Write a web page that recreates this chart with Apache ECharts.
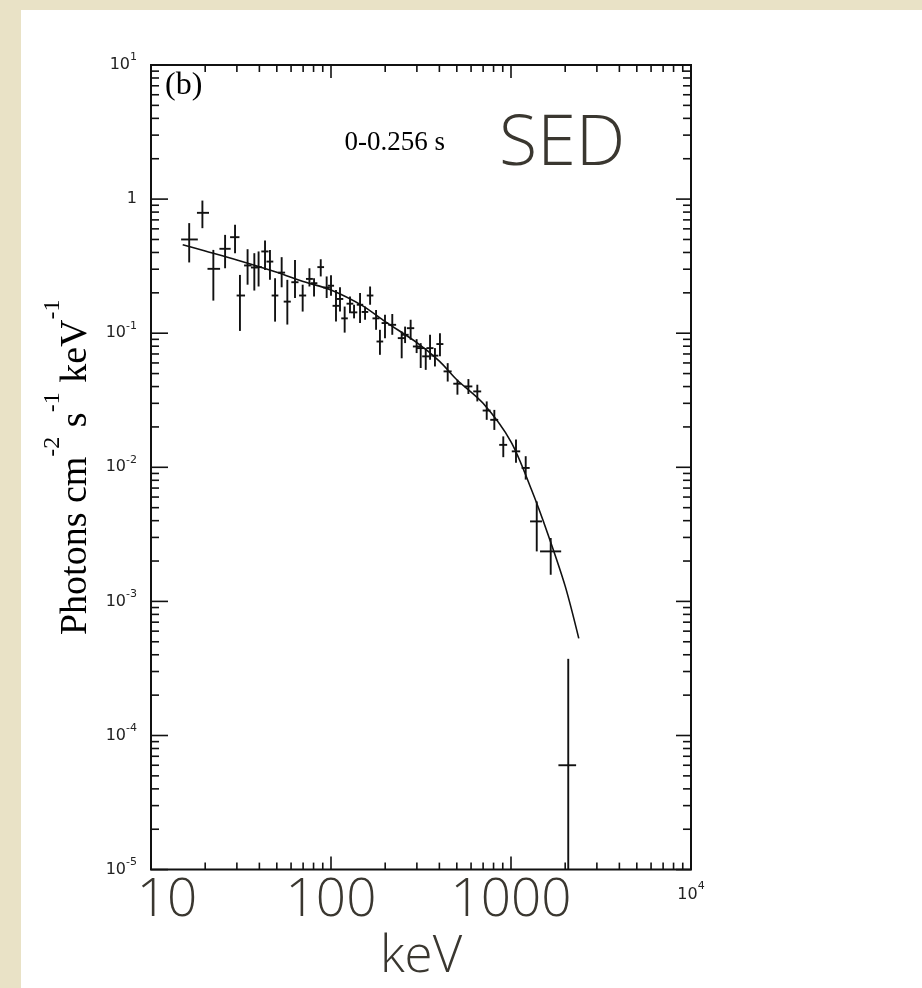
<!DOCTYPE html>
<html><head><meta charset="utf-8">
<script src="https://cdn.jsdelivr.net/npm/echarts@6/dist/echarts.min.js"></script>
<style>
html,body{margin:0;padding:0;width:922px;height:988px;background:#e9e2c6;overflow:hidden}
#panel{position:absolute;left:21px;top:10px;width:901px;height:978px;background:#fff}
#chart{position:absolute;left:0;top:0;width:922px;height:988px}
</style></head><body>
<div id="panel"></div>
<div id="chart"></div>
<script>
// ---- data ----
const energy   = [16.3, 19.3, 22.2, 25.8, 29.3, 31.2, 34.4, 37.5, 39.6, 43.0, 45.8, 48.9, 53.2, 57.2, 63.1, 69.6, 75.9, 80.5, 87.7, 94.6, 100, 106.6, 112.2, 119.1, 127.5, 134.3, 145, 154.6, 164.9, 178, 187, 199.5, 219, 247, 258, 277, 299, 315, 336, 355, 378, 403, 445, 504, 580, 650, 733, 808, 906, 1066, 1207, 1390, 1662, 2080];
const energyLo = [14.7, 18.0, 20.6, 24.0, 27.5, 29.9, 32.9, 35.9, 38.0, 41.0, 43.8, 46.8, 50.8, 54.6, 60.2, 66.5, 72.6, 77.0, 84.0, 90.6, 96, 102, 107.5, 114, 122, 129, 139, 148, 158, 170, 179, 191, 208, 235, 246, 264, 285, 300, 321, 339, 361, 385, 422, 478, 550, 617, 696, 767, 860, 1010, 1145, 1276, 1450, 1834];
const energyHi = [18.2, 21.0, 24.2, 27.7, 31.0, 33.3, 36.2, 39.2, 41.3, 45.0, 47.8, 51.0, 55.6, 59.8, 66.0, 72.8, 79.3, 84.0, 91.5, 98.6, 104, 111, 117, 124, 133, 140, 151, 161, 172, 186, 195, 208, 230, 259, 270, 290, 313, 330, 352, 371, 395, 421, 468, 530, 610, 683, 770, 849, 952, 1125, 1270, 1487, 1900, 2300];
const flux     = [0.50, 0.79, 0.302, 0.426, 0.520, 0.191, 0.320, 0.309, 0.311, 0.407, 0.342, 0.191, 0.283, 0.172, 0.240, 0.191, 0.254, 0.236, 0.311, 0.219, 0.226, 0.160, 0.180, 0.129, 0.166, 0.143, 0.163, 0.144, 0.191, 0.129, 0.0867, 0.119, 0.1155, 0.0919, 0.0973, 0.109, 0.0796, 0.0774, 0.0672, 0.0774, 0.068, 0.083, 0.0519, 0.042, 0.0401, 0.0368, 0.0265, 0.0226, 0.0147, 0.01315, 0.00989, 0.00395, 0.00236, 0.00006];
const fluxLo   = [0.337, 0.607, 0.175, 0.305, 0.395, 0.104, 0.230, 0.208, 0.223, 0.296, 0.250, 0.122, 0.220, 0.116, 0.183, 0.145, 0.223, 0.188, 0.265, 0.183, 0.19, 0.122, 0.145, 0.101, 0.141, 0.129, 0.119, 0.126, 0.163, 0.106, 0.069, 0.0918, 0.0973, 0.065, 0.0844, 0.0893, 0.0711, 0.055, 0.0533, 0.0634, 0.0565, 0.0672, 0.0436, 0.0348, 0.0352, 0.031, 0.0226, 0.019, 0.0119, 0.0108, 0.0081, 0.00236, 0.00158, 0.00001];
const fluxHi   = [0.662, 0.975, 0.418, 0.541, 0.643, 0.272, 0.423, 0.395, 0.407, 0.491, 0.418, 0.257, 0.369, 0.250, 0.352, 0.230, 0.305, 0.257, 0.356, 0.265, 0.27, 0.210, 0.220, 0.158, 0.188, 0.163, 0.199, 0.158, 0.223, 0.149, 0.106, 0.137, 0.139, 0.103, 0.112, 0.126, 0.0903, 0.0843, 0.0774, 0.0973, 0.0774, 0.100, 0.0598, 0.045, 0.0455, 0.0413, 0.031, 0.0268, 0.017, 0.0161, 0.0121, 0.00557, 0.00297, 0.000373];
const modelEnergy = [15, 20, 30, 50, 70, 100, 150, 200, 300, 400, 500, 700, 1000, 1300, 1600, 2000, 2380];
const modelFlux   = [0.456, 0.41, 0.352, 0.285, 0.243, 0.21, 0.16, 0.122, 0.085, 0.062, 0.045, 0.030, 0.0155, 0.0068, 0.0032, 0.0013, 0.00053];
const xTickValues = [10, 100, 1000, 10000];
const xTickLabels = ['10', '100', '1000', '10^4'];
const yTickValues = [1e-5, 1e-4, 1e-3, 1e-2, 1e-1, 1, 10];
const yTickLabels = ['10^-5', '10^-4', '10^-3', '10^-2', '10^-1', '1', '10^1'];
const xRange = [10, 10000];
const yRange = [1e-5, 10];
const panelLabel = '(b)';
const timeLabel = '0-0.256 s';
const slideTitle = 'SED';
const xName = 'keV';

// ---- helpers ----
function logTicks(min, max) {
  const out = [];
  for (let d = min; d <= max * 1.0001; d *= 10) {
    for (let k = 1; k < 10; k++) {
      const v = k * d;
      if (v > max * 1.0001) break;
      out.push([v, k === 1 ? 1 : 0]);
    }
  }
  return out;
}
function findIdx(arr, v) {
  return arr.findIndex(t => Math.abs(Math.log10(t) - Math.log10(v)) < 1e-6);
}
const errData = energy.map((e, i) => [e, flux[i], energyLo[i], energyHi[i], fluxLo[i], fluxHi[i]]);
const modelData = modelEnergy.map((e, i) => [e, modelFlux[i]]);

const chart = echarts.init(document.getElementById('chart'), null, {renderer: 'canvas'});
const serif = '"Liberation Serif", "DejaVu Serif", serif';
const sans = '"Open Sans", "Noto Sans", sans-serif';
const small = '"DejaVu Sans", sans-serif';
const dark = '#3a3730';

const option = {
  backgroundColor: 'transparent',
  animation: false,
  grid: {left: 151, top: 65, width: 540, height: 805, show: true, borderColor: '#111', borderWidth: 2, backgroundColor: 'transparent'},
  xAxis: {
    type: 'log', logBase: 10, min: xRange[0], max: xRange[1], splitNumber: 3,
    axisLine: {show: false}, axisTick: {show: false}, splitLine: {show: false},
    name: xName, nameLocation: 'middle', nameGap: 48,
    nameTextStyle: {fontFamily: sans, fontSize: 51, fontWeight: 300, color: dark, lineHeight: 51},
    axisLabel: {
      margin: 5,
      formatter: function (v) {
        const i = findIdx(xTickValues, v);
        if (i < 0) return '';
        const lab = xTickLabels[i];
        if (lab.indexOf('^') >= 0) { const p = lab.split('^'); return '{s|' + p[0] + '}{sup|' + p[1] + '}'; }
        return (i === 0 ? '{bl|' : '{b|') + lab + '}';
      },
      rich: {
        b: {fontFamily: sans, fontSize: 53, fontWeight: 300, color: dark, lineHeight: 52},
        bl: {fontFamily: sans, fontSize: 53, fontWeight: 300, color: dark, lineHeight: 52, padding: [0, 0, 0, 32]},
        s: {fontFamily: small, fontSize: 16, color: '#222', lineHeight: 16, verticalAlign: 'top', padding: [12, 0, 0, 0]},
        sup: {fontFamily: small, fontSize: 11, color: '#222', lineHeight: 11, verticalAlign: 'top', padding: [6, 0, 0, 0]}
      }
    }
  },
  yAxis: {
    type: 'log', logBase: 10, min: yRange[0], max: yRange[1], splitNumber: 6,
    axisLine: {show: false}, axisTick: {show: false}, splitLine: {show: false},
    name: '{m|Photons cm}{u|-2}{m| s}{u|-1}{m| keV}{u|-1}',
    nameLocation: 'middle', nameRotate: 90, nameGap: 49,
    nameTextStyle: {
      rich: {
        m: {fontFamily: serif, fontSize: 38, color: '#000', lineHeight: 40, verticalAlign: 'bottom'},
        u: {fontFamily: serif, fontSize: 24, color: '#000', lineHeight: 24, verticalAlign: 'bottom', padding: [0, 0, 30, 0]}
      }
    },
    axisLabel: {
      margin: 14,
      formatter: function (v) {
        const i = findIdx(yTickValues, v);
        if (i < 0) return '';
        const lab = yTickLabels[i];
        if (lab.indexOf('^') >= 0) { const p = lab.split('^'); return '{b|' + p[0] + '}{s|' + p[1] + '}'; }
        return '{b|' + lab + '}';
      },
      rich: {
        b: {fontFamily: small, fontSize: 16, color: '#222', lineHeight: 16, verticalAlign: 'bottom'},
        s: {fontFamily: small, fontSize: 11, color: '#222', lineHeight: 11, verticalAlign: 'bottom', padding: [0, 0, 10, 0]}
      }
    }
  },
  graphic: [
    {type: 'text', left: 165, top: 70, style: {text: panelLabel, font: '32px ' + serif, fill: '#000'}},
    {type: 'text', right: 922 - 445, top: 129, style: {text: timeLabel, font: '27px ' + serif, fill: '#000'}},
    {type: 'text', left: 499, top: 110, style: {text: slideTitle, font: '300 70px ' + sans, fill: dark}}
  ],
  series: [
    {
      type: 'custom', name: 'xticks', silent: true, clip: false,
      data: logTicks(xRange[0], xRange[1]),
      renderItem: function (params, api) {
        const cs = params.coordSys;
        const px = api.coord([api.value(0), 1])[0];
        const len = api.value(1) ? 13 : 7;
        const st = {stroke: '#111', lineWidth: 1.6};
        return {type: 'group', children: [
          {type: 'line', shape: {x1: px, y1: cs.y + cs.height, x2: px, y2: cs.y + cs.height - len}, style: st},
          {type: 'line', shape: {x1: px, y1: cs.y, x2: px, y2: cs.y + len}, style: st}
        ]};
      }
    },
    {
      type: 'custom', name: 'yticks', silent: true, clip: false,
      data: logTicks(yRange[0], yRange[1]).map(d => [100, d[0], d[1]]),
      renderItem: function (params, api) {
        const cs = params.coordSys;
        const py = api.coord([100, api.value(1)])[1];
        const major = api.value(2);
        const st = {stroke: '#111', lineWidth: 1.6};
        return {type: 'group', children: [
          {type: 'line', shape: {x1: cs.x, y1: py, x2: cs.x + (major ? 17 : 8), y2: py}, style: st},
          {type: 'line', shape: {x1: cs.x + cs.width, y1: py, x2: cs.x + cs.width - (major ? 15 : 8), y2: py}, style: st}
        ]};
      }
    },
    {
      type: 'line', name: 'model', data: modelData, smooth: 0.3, showSymbol: false, symbol: 'none',
      lineStyle: {color: '#111', width: 1.6}, z: 3
    },
    {
      type: 'custom', name: 'data', data: errData, z: 4,
      renderItem: function (params, api) {
        const e = api.value(0), f = api.value(1);
        const h1 = api.coord([api.value(2), f]), h2 = api.coord([api.value(3), f]);
        const v1 = api.coord([e, api.value(4)]), v2 = api.coord([e, api.value(5)]);
        const st = {stroke: '#111', lineWidth: 1.9};
        return {type: 'group', children: [
          {type: 'line', shape: {x1: h1[0], y1: h1[1], x2: h2[0], y2: h2[1]}, style: st},
          {type: 'line', shape: {x1: v1[0], y1: v1[1], x2: v2[0], y2: v2[1]}, style: st}
        ]};
      }
    }
  ]
};
chart.setOption(option);
</script></body></html>
